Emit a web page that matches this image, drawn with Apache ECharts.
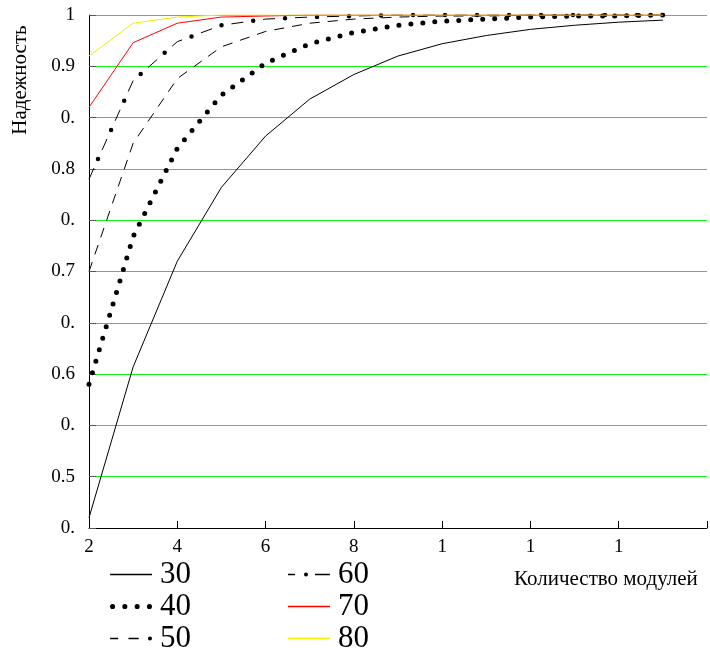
<!DOCTYPE html>
<html>
<head>
<meta charset="utf-8">
<script src="https://cdn.jsdelivr.net/npm/echarts@6/dist/echarts.min.js"></script>
<style>
  html, body { margin: 0; padding: 0; background: #fff; }
  #chart { width: 710px; height: 653px; }
</style>
</head>
<body>
<div id="chart"></div>
<script>
// количество модулей
var modules = [2, 3, 4, 5, 6, 7, 8, 9, 10, 11, 12, 13, 14, 15];

// надежность для каждой кривой (30..80)
var r30 = [0.510, 0.657, 0.760, 0.832, 0.882, 0.918, 0.942, 0.960, 0.972, 0.980, 0.986, 0.990, 0.993, 0.995];
var r40 = [0.640, 0.784, 0.870, 0.922, 0.953, 0.972, 0.983, 0.990, 0.994, 0.996, 0.998, 0.999, 0.999, 1.000];
var r50 = [0.750, 0.875, 0.938, 0.969, 0.984, 0.992, 0.996, 0.998, 0.999, 0.999, 1.000, 1.000, 1.000, 1.000];
var r60 = [0.840, 0.936, 0.974, 0.990, 0.996, 0.998, 0.999, 1.000, 1.000, 1.000, 1.000, 1.000, 1.000, 1.000];
var r70 = [0.910, 0.973, 0.992, 0.998, 0.999, 1.000, 1.000, 1.000, 1.000, 1.000, 1.000, 1.000, 1.000, 1.000];
var r80 = [0.960, 0.992, 0.998, 1.000, 1.000, 1.000, 1.000, 1.000, 1.000, 1.000, 1.000, 1.000, 1.000, 1.000];

// подписи делений как на исходнике (обрезанные)
var xTicks = [2, 4, 6, 8, 10, 12, 14, 16];
var xTickLabels = ['2', '4', '6', '8', '1', '1', '1', ''];
var yTickLabels = ['0.', '0.5', '0.', '0.6', '0.', '0.7', '0.', '0.8', '0.', '0.9', '1'];

function pairs(arr) {
  return modules.map(function (m, i) { return [m, arr[i]]; });
}

function dot(cx, r) {
  return 'M' + (cx - r) + ',3a' + r + ',' + r + ' 0 1,0 ' + (2 * r) + ',0a' + r + ',' + r + ' 0 1,0 ' + (-2 * r) + ',0Z';
}
function bar(x0, x1) {
  return 'M' + x0 + ',2.2H' + x1 + 'V3.8H' + x0 + 'Z';
}

var icons = {
  '30': 'path://' + bar(0, 42),
  '40': 'path://' + dot(2.5, 2.5) + dot(14.5, 2.5) + dot(26.5, 2.5) + dot(38.5, 2.5),
  '50': 'path://' + bar(0, 8) + bar(18, 28) + dot(39, 2),
  '60': 'path://' + bar(0, 7) + dot(18, 2) + bar(27, 42),
  '70': 'path://' + bar(0, 42),
  '80': 'path://' + bar(0, 42)
};
var colors = { '30': '#000', '40': '#000', '50': '#000', '60': '#000', '70': '#ff0000', '80': '#f0f000' };

function legendItem(name) {
  return { name: name, icon: icons[name], itemStyle: { color: colors[name], borderWidth: 0, opacity: 1 } };
}

var chart = echarts.init(document.getElementById('chart'));

var legendBase = {
  orient: 'vertical',
  top: 559,
  height: 200,
  padding: 0,
  itemWidth: 42,
  itemHeight: 6,
  itemGap: 1,
  selectedMode: false,
  textStyle: { fontFamily: 'Liberation Serif', fontSize: 31, color: '#000', lineHeight: 31, padding: [0, 0, 0, 3] }
};

chart.setOption({
  animation: false,
  grid: { left: 89, right: 0, top: 15, bottom: 125 },
  legend: [
    Object.assign({ left: 110, data: ['30', '40', '50'].map(legendItem) }, legendBase),
    Object.assign({ left: 288, data: ['60', '70', '80'].map(legendItem) }, legendBase)
  ],
  graphic: [
    {
      type: 'text', x: 20, y: 80, rotation: Math.PI / 2,
      style: { text: 'Надежность', font: '21px "Liberation Serif"', fill: '#000', align: 'center', verticalAlign: 'middle' }
    },
    {
      type: 'text', x: 514, y: 579,
      style: { text: 'Количество модулей', font: '21px "Liberation Serif"', fill: '#000', align: 'left', verticalAlign: 'middle' }
    }
  ],
  xAxis: {
    type: 'value', min: 2, max: 16, interval: 2,
    axisLine: { lineStyle: { color: '#000', width: 1 } },
    axisTick: { inside: true, length: 7, lineStyle: { color: '#000' } },
    splitLine: { show: false },
    axisLabel: {
      margin: 10, fontFamily: 'Liberation Serif', fontSize: 19, color: '#000',
      formatter: function (v) { return xTickLabels[xTicks.indexOf(v)] || ''; }
    }
  },
  yAxis: {
    type: 'value', min: 0.5, max: 1, interval: 0.05,
    axisLine: { show: true, lineStyle: { color: '#000', width: 1 } },
    axisTick: { show: true, inside: true, length: 7, lineStyle: { color: '#555' } },
    splitLine: { show: true, lineStyle: { color: '#11f011', width: 1 } },
    axisLabel: {
      margin: 14, fontFamily: 'Liberation Serif', fontSize: 19, color: '#000',
      formatter: function (v) { return yTickLabels[Math.round((v - 0.5) / 0.05)]; }
    }
  },
  series: [
    { name: '30', type: 'line', symbol: 'none', data: pairs(r30),
      lineStyle: { color: '#000', width: 1 } },
    { name: '40', type: 'line', symbol: 'none', data: pairs(r40),
      lineStyle: { color: '#000', width: 5, type: [0, 12], cap: 'round' } },
    { name: '50', type: 'line', symbol: 'none', data: pairs(r50),
      lineStyle: { color: '#000', width: 1, type: [10, 8] } },
    { name: '60', type: 'line', symbol: 'none', data: pairs(r60),
      lineStyle: { color: '#000', width: 1, type: [12, 20] } },
    { name: '60', type: 'line', symbol: 'none', data: pairs(r60),
      lineStyle: { color: '#000', width: 4.5, type: [0, 32], dashOffset: 10, cap: 'round' } },
    { name: '70', type: 'line', symbol: 'none', data: pairs(r70),
      lineStyle: { color: '#ff0000', width: 1 } },
    { name: '80', type: 'line', symbol: 'none', data: pairs(r80),
      lineStyle: { color: '#f0f000', width: 1 } }
  ]
});
</script>
</body>
</html>
